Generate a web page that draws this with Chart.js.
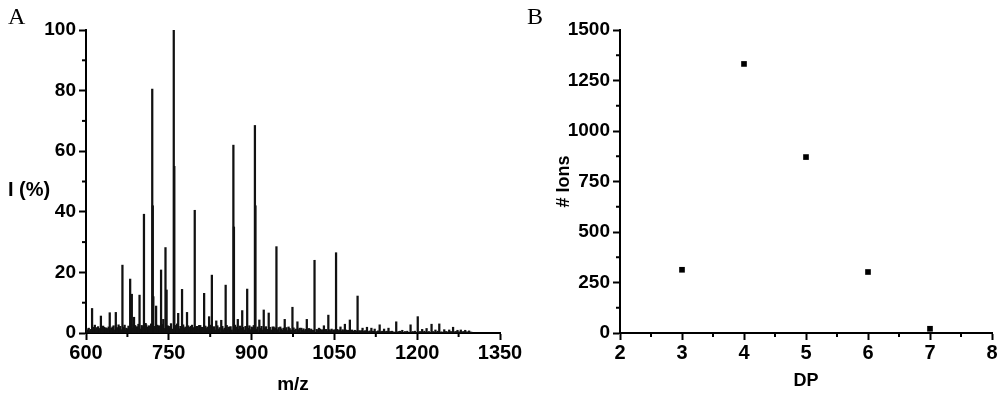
<!DOCTYPE html>
<html><head><meta charset="utf-8">
<script src="https://cdn.jsdelivr.net/npm/chart.js@4.4.1/dist/chart.umd.min.js"></script>
<style>
html,body{margin:0;padding:0;background:#fff;width:1000px;height:396px;overflow:hidden;}
.wrap{position:absolute;top:0;height:396px;}
#wa{left:0;width:540px;}
#wb{left:510px;width:490px;}
.lbl{position:absolute;color:#000;white-space:nowrap;}
</style></head><body>
<div class="wrap" id="wa"><canvas id="ca" width="540" height="396"></canvas></div>
<div class="wrap" id="wb"><canvas id="cb" width="490" height="396"></canvas></div>
<div class="lbl" style="left:8px;top:3px;font:24px 'Liberation Serif',serif;">A</div>
<div class="lbl" style="left:527px;top:3px;font:24px 'Liberation Serif',serif;">B</div>
<div class="lbl" style="left:8px;top:178px;font:bold 20px 'Liberation Sans',Arial,sans-serif;">I (%)</div>
<script>
// ---- Panel A: mass spectrum (m/z, relative intensity %) ----
const majorPeaks = [
 [611,8.1],[616,2.6],[620,1.8],[627,5.6],[633,1.9],[638,1.5],[643,6.7],[648,2.0],[654,6.8],[659,2.7],
 [666,22.4],[673,1.6],[680,17.8],[683,12.8],[687,5.2],[692,2.1],[697,12.5],[701,2.5],[705,39.2],[708,3.2],
 [711,2.0],[720,80.5],[721,42],[722,12.0],[727,8.9],[732,2.4],[736,20.8],[740,4.5],[744,28.2],[746,14.2],
 [750,2.2],[759,100],[760,55],[767,6.5],[774,14.4],[783,6.8],[790,2.2],[797,40.5],[799,2.0],[805,2.5],
 [814,13.1],[823,5.4],[828,19.1],[836,4.0],[845,4.2],[853,15.8],[860,2.0],[867,62],[868,35],[875,4.5],
 [883,7.4],[892,14.5],[900,2.0],[906,68.5],[907,42],[914,4.3],[922,7.6],[931,6.6],[938,2.0],[945,28.5],
 [952,2.0],[960,4.5],[967,2.0],[974,8.5],[983,3.7],[990,1.6],[1000,4.5],[1014,24.0],[1022,1.6],[1031,2.4],
 [1039,5.9],[1053,26.5],[1061,2.0],[1069,2.9],[1078,4.3],[1092,12.2],[1101,1.6],[1109,1.9],[1117,1.6],[1123,1.3],
 [1132,2.7],[1140,1.3],[1148,1.6],[1162,3.7],[1173,0.9],[1188,2.7],[1201,5.4],[1209,1.2],[1217,1.5],[1226,2.9],
 [1233,1.0],[1240,3.0],[1249,1.1],[1258,1.0],[1265,1.9],[1273,0.9],[1279,1.0],[1287,0.9],[1294,0.7]
];
const baselinePeaks = [
 [601,1.4],[603,0.9],[605,1.6],[607,0.7],[609,1.2],[613,1.9],[614,0.8],[618,1.3],[622,2.1],[624,0.9],
 [625,1.5],[629,1.1],[631,2.3],[635,0.8],[636,1.7],[640,1.2],[641,2.0],[645,0.9],[646,1.6],[650,2.4],
 [652,1.0],[656,1.8],[657,0.7],[661,1.5],[662,2.2],[664,1.1],[668,1.9],[670,2.6],[671,1.0],[675,1.4],
 [677,2.3],[678,0.9],[682,2.8],[685,1.5],[689,2.5],[690,1.2],[694,1.8],[695,2.9],[699,1.3],[703,2.1],
 [704,1.0],[709,2.7],[713,1.6],[714,2.4],[716,1.1],[718,3.0],[724,2.2],[725,1.4],[729,2.6],[730,1.2],
 [734,1.9],[738,2.8],[742,1.5],[748,2.4],[752,1.7],[754,3.1],[756,1.3],[762,2.5],[764,1.8],[765,3.0],
 [769,1.4],[771,2.2],[772,1.0],[776,2.7],[778,1.6],[780,2.0],[781,1.1],[785,2.4],[787,1.3],[788,1.9],
 [792,2.6],[794,1.2],[795,1.8],[801,2.2],[803,1.1],[807,2.5],[808,1.4],[810,1.9],[812,1.0],[816,2.3],
 [818,1.5],[820,2.0],[825,1.2],[826,2.6],[830,1.7],[832,2.1],[834,1.0],[838,2.4],[840,1.3],[842,1.8],
 [847,2.2],[849,1.1],[851,1.6],[855,2.5],[857,1.2],[858,1.9],[862,2.1],[864,1.0],[870,2.6],[872,1.4],
 [873,2.0],[877,1.2],[879,2.3],[881,1.5],[885,1.9],[887,1.0],[889,2.2],[894,1.6],[896,2.4],[898,1.1],
 [902,1.8],[904,2.5],[909,1.3],[911,2.0],[916,1.5],[918,2.2],[920,1.0],[924,1.7],[926,2.1],[928,1.2],
 [933,1.9],[935,1.0],[940,2.0],[942,1.3],[943,1.7],[947,1.1],[949,1.8],[954,1.4],[956,0.9],[958,1.6],
 [962,1.2],[963,1.8],[965,0.8],[969,1.5],[971,1.0],[976,1.7],[978,0.9],[980,1.3],[985,1.1],[987,1.6],
 [992,0.9],[994,1.4],[996,0.8],[998,1.2],[1002,1.0],[1004,1.5],[1006,0.8],[1008,1.3],[1011,0.9],[1018,1.2],
 [1020,0.8],[1024,1.3],[1026,0.9],[1028,1.1],[1033,0.8],[1035,1.2],[1037,0.7],[1041,1.1],[1043,0.8],[1045,1.3],
 [1048,0.9],[1050,1.1],[1055,1.2],[1057,0.8],[1059,1.0],[1063,0.7],[1065,1.1],[1067,0.8],[1071,1.0],[1073,0.7],
 [1075,0.9],[1080,0.8],[1082,1.0],[1084,0.6],[1087,0.9],[1089,0.7],[1095,0.8],[1097,0.6],[1099,0.8],[1104,0.6],
 [1106,0.8],[1112,0.5],[1114,0.7],[1120,0.6],[1126,0.5],[1129,0.7],[1135,0.5],[1137,0.6],[1143,0.5],[1145,0.6],
 [1151,0.5],[1154,0.6],[1157,0.4],[1166,0.5],[1169,0.6],[1178,0.5],[1182,0.6],[1192,0.5],[1196,0.6],[1205,0.5],
 [1213,0.6],[1221,0.5],[1229,0.5],[1237,0.6],[1244,0.4],[1252,0.5],[1255,0.4],[1261,0.5],[1268,0.4],[1270,0.5],
 [1276,0.4],[1282,0.4],[1284,0.5],[1290,0.4],[1296,0.3],[1298,0.3]
];
const mzTicks = [600, 750, 900, 1050, 1200, 1350];
const intensityTicks = [0, 20, 40, 60, 80, 100];

// ---- Panel B: number of ions per degree of polymerisation ----
const dpValues = [3, 4, 5, 6, 7];
const ionCounts = [313, 1332, 871, 302, 21];
const dpTicks = [2, 3, 4, 5, 6, 7, 8];
const ionTicks = [0, 250, 500, 750, 1000, 1250, 1500];

const FONT = "'Liberation Sans', Arial, sans-serif";
Chart.defaults.color = '#000';
Chart.defaults.font.family = FONT;

const minorTicks = {
  id: 'minorTicks',
  afterDraw(chart, args, opts) {
    const ctx = chart.ctx;
    ctx.save();
    ctx.strokeStyle = '#000';
    ctx.lineWidth = 2;
    for (const id of Object.keys(opts.steps || {})) {
      const s = chart.scales[id];
      const step = opts.steps[id];
      for (let v = s.min + step; v < s.max; v += 2 * step) {
        const p = s.getPixelForValue(v);
        ctx.beginPath();
        if (s.isHorizontal()) { ctx.moveTo(p, s.top); ctx.lineTo(p, s.top + 4); }
        else { ctx.moveTo(s.right, p); ctx.lineTo(s.right - 4, p); }
        ctx.stroke();
      }
    }
    ctx.restore();
  }
};

function axisCommon(ticksList, fontSize, pad) {
  return {
    border: { display: true, color: '#000', width: 2 },
    grid: { display: true, drawOnChartArea: false, drawTicks: true, tickLength: 7, tickWidth: 2, tickColor: '#000', offset: false },
    afterBuildTicks: (s) => { s.ticks = ticksList.map(v => ({ value: v })); },
    ticks: { color: '#000', font: { family: FONT, weight: 'bold', size: fontSize }, padding: pad, autoSkip: false, maxRotation: 0,
      callback: (v) => String(v) }
  };
}

// Panel A
const xA = axisCommon(mzTicks, 20, 1);
Object.assign(xA, { type: 'linear', min: 600, max: 1350, offset: false,
  title: { display: true, text: 'm/z', font: { family: FONT, weight: 'bold', size: 19 }, padding: { top: 0, bottom: 0 } },
  afterFit: (s) => { s.height = 63; s.paddingLeft = 0; s.paddingRight = 0; } });
const yA = axisCommon(intensityTicks, 19, 3);
Object.assign(yA, { type: 'linear', min: 0, max: 100,
  afterFit: (s) => { s.width = 86; s.paddingTop = 0; s.paddingBottom = 0; } });

new Chart(document.getElementById('ca'), {
  type: 'bar',
  data: { datasets: [{
    data: majorPeaks.concat(baselinePeaks).map(p => ({ x: p[0], y: p[1] })),
    backgroundColor: '#111', borderWidth: 0, barThickness: 1.6, grouped: false
  }] },
  options: {
    responsive: false, animation: false, devicePixelRatio: 1,
    layout: { padding: { left: 0, top: 30, right: 40, bottom: 0 } },
    plugins: { legend: { display: false }, tooltip: { enabled: false }, minorTicks: { steps: { x: 75, y: 10 } } },
    scales: { x: xA, y: yA }
  },
  plugins: [minorTicks]
});

// Panel B
const xB = axisCommon(dpTicks, 20, 1);
Object.assign(xB, { type: 'linear', min: 2, max: 8,
  title: { display: true, text: 'DP', font: { family: FONT, weight: 'bold', size: 18 }, padding: { top: 0, bottom: 4 } },
  afterFit: (s) => { s.height = 63; s.paddingLeft = 0; s.paddingRight = 0; } });
const yB = axisCommon(ionTicks, 19, 3);
Object.assign(yB, { type: 'linear', min: 0, max: 1500,
  title: { display: true, text: '# Ions', font: { family: FONT, weight: 'bold', size: 18 }, padding: { top: 0, bottom: 0 } },
  afterFit: (s) => { s.width = 67; s.paddingTop = 0; s.paddingBottom = 0; } });

new Chart(document.getElementById('cb'), {
  type: 'scatter',
  data: { datasets: [{
    data: dpValues.map((d, i) => ({ x: d, y: ionCounts[i] })),
    pointStyle: 'rect', radius: 4, backgroundColor: '#000', borderWidth: 0, clip: false
  }] },
  options: {
    responsive: false, animation: false, devicePixelRatio: 1,
    layout: { padding: { left: 43, top: 30, right: 8, bottom: 0 } },
    plugins: { legend: { display: false }, tooltip: { enabled: false }, minorTicks: { steps: { x: 0.5, y: 125 } } },
    scales: { x: xB, y: yB }
  },
  plugins: [minorTicks]
});
</script>
</body></html>
